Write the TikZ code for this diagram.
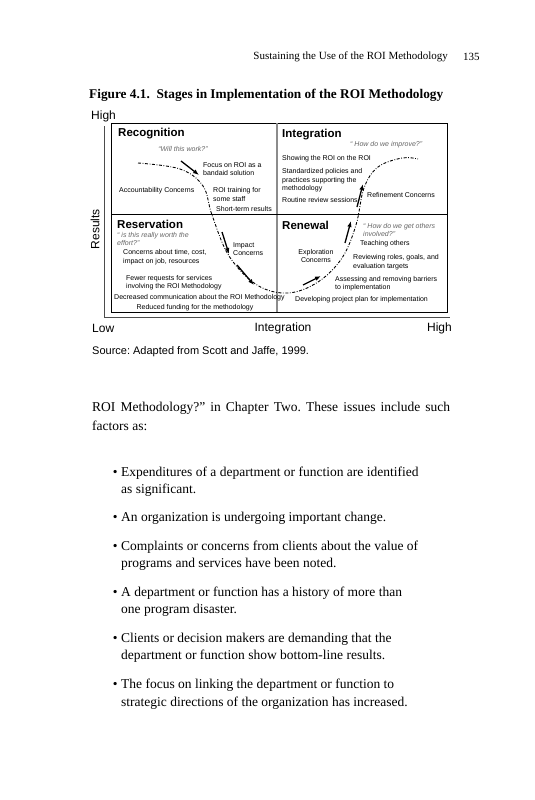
\documentclass[tikz,border=0pt]{standalone}
\usepackage{fontspec}
\setmainfont{Liberation Serif}
\setsansfont{Liberation Sans}
\usetikzlibrary{arrows.meta}
\frenchspacing

\begin{document}
\begin{tikzpicture}[x=1pt,y=-1pt,
  lbl/.style={font=\sffamily\fontsize{7}{8.6}\selectfont,anchor=west,inner sep=0pt,align=left},
  quad/.style={font=\sffamily\bfseries\fontsize{11.5}{13}\selectfont,anchor=west,inner sep=0pt},
  quote/.style={lbl,font=\sffamily\itshape\fontsize{7}{8.6}\selectfont,text=black!60},
  axis/.style={font=\sffamily\fontsize{12}{14}\selectfont,inner sep=0pt},
  body/.style={font=\fontsize{13.5}{17.5}\selectfont,anchor=west,inner sep=0pt,align=left},
  push/.style={line width=1.3pt,-{Latex[length=6pt,width=4.5pt]}},
  stagecurve/.style={line width=0.9pt,dash pattern=on 3pt off 1.6pt on 0.8pt off 1.6pt}]
\useasboundingbox[fill=white] (0,0) rectangle (535,800);
\newcommand\itembul{\llap{\textbullet\hspace{3.5pt}}}

% page head and caption
\node[font=\fontsize{11}{13}\selectfont,anchor=east,inner sep=0pt] (head) at (448,57) {Sustaining the Use of the ROI Methodology};
\node[font=\fontsize{11}{13}\selectfont,anchor=west,inner sep=0pt] (page) at (463,57) {135};
\node[font=\bfseries\fontsize{13.3}{15}\selectfont,anchor=west,inner sep=0pt] (title) at (89,95) {Figure 4.1.\ \ Stages in Implementation of the ROI Methodology};

% axes and frame
\coordinate (top) at (104,126);
\coordinate (origin) at (104,317);
\coordinate (right) at (450,317);
\draw[black!70,line width=0.8pt] (top) -- (origin) -- (right);
\draw[line width=0.6pt] (111,123) rectangle (447,312);
\draw[black!45,line width=1.2pt] (277,123) -- (277,312);
\draw[line width=1pt] (111,214) -- (447,214);

\node[axis,anchor=west] (high1) at (91,116) {High};
\node[axis,rotate=90] (results) at (95,229) {Results};
\node[axis,anchor=west] (low) at (92,328) {Low};
\node[axis] (integ) at (283,328) {Integration};
\node[axis,anchor=east] (high2) at (452,328) {High};
\node[font=\sffamily\fontsize{11}{13}\selectfont,anchor=west,inner sep=0pt] (source) at (92,352) {Source: Adapted from Scott and Jaffe, 1999.};

% Recognition
\node[quad] (recog) at (118,134) {Recognition};
\node[quote,anchor=center] (q1) at (183,149) {“Will this work?”};
\node[lbl] (focus) at (203,169) {Focus on ROI as a\\bandaid solution};
\node[lbl] (account) at (119,191) {Accountability Concerns};
\node[lbl] (training) at (213,194.5) {ROI training for\\some staff};
\node[lbl] (short) at (216,209) {Short-term results};

% Integration
\node[quad] (integr) at (282,135) {Integration};
\node[quote] (q2) at (350,145) {“ How do we improve?”};
\node[lbl] (showing) at (282,159) {Showing the ROI on the ROI};
\node[lbl] (standard) at (282,180.5) {Standardized policies and\\practices supporting the\\methodology};
\node[lbl] (routine) at (282,200) {Routine review sessions};
\node[lbl] (refine) at (367,195) {Refinement Concerns};

% Reservation
\node[quad] (reserv) at (117,224) {Reservation};
\node[quote] (q3) at (117,239) {“ is this really worth the\\effort?”};
\node[lbl] (time) at (123,257) {Concerns about time, cost,\\impact on job, resources};
\node[lbl] (impact) at (233,249) {Impact\\Concerns};
\node[lbl] (fewer) at (126,282.5) {Fewer requests for services\\involving the ROI Methodology};
\node[lbl] (decr) at (114,298) {Decreased communication about the ROI Methodology};
\node[lbl,anchor=center] (funding) at (195,308) {Reduced funding for the methodology};

% Renewal
\node[quad] (renew) at (282,225) {Renewal};
\node[quote] (q4) at (363,230) {“ How do we get others\\involved?”};
\node[lbl,align=center,anchor=center] (explore) at (316,256) {Exploration\\Concerns};
\node[lbl] (teach) at (360,244) {Teaching others};
\node[lbl] (review) at (353,262) {Reviewing roles, goals, and\\evaluation targets};
\node[lbl] (assess) at (335,283.5) {Assessing and removing barriers\\to implementation};
\node[lbl] (develop) at (295,300) {Developing project plan for implementation};

% the S-curve through the four stages
\coordinate (c1) at (138,163);
\coordinate (c2) at (180,169);
\coordinate (c3) at (203,186);
\coordinate (c4) at (212,215);
\coordinate (c5) at (229,256);
\coordinate (c6) at (257,285);
\coordinate (c7) at (288,293);
\coordinate (c8) at (318,282);
\coordinate (c9) at (342,258);
\coordinate (c10) at (356,225);
\coordinate (c11) at (364,188);
\coordinate (c12) at (378,167);
\coordinate (c13) at (402,158);
\coordinate (c14) at (418,159);
\draw[stagecurve] plot[smooth,tension=0.6] coordinates {(c1) (c2) (c3) (c4) (c5) (c6) (c7) (c8) (c9) (c10) (c11) (c12) (c13) (c14)};

% arrows along the curve
\coordinate (a1) at (181,161); \coordinate (b1) at (199,175);
\coordinate (a2) at (222,232); \coordinate (b2) at (229,254);
\coordinate (a3) at (237,265); \coordinate (b3) at (254,285);
\coordinate (a4) at (303,285); \coordinate (b4) at (321,276);
\coordinate (a5) at (345,243); \coordinate (b5) at (351,221);
\coordinate (a6) at (357,207); \coordinate (b6) at (363,184);
\foreach \i in {1,...,6}
  \draw[push] (a\i) -- (b\i);

% text below the figure
\node[body] (para1) at (92,408) {\makebox[358pt][s]{ROI Methodology?” in Chapter Two. These issues include such}};
\node[body] (para2) at (92,426) {factors as:};

\node[body] (i1) at (121,481.5) {\itembul Expenditures of a department or function are identified\\as significant.};
\node[body] (i2) at (121,518) {\itembul An organization is undergoing important change.};
\node[body] (i3) at (121,555.5) {\itembul Complaints or concerns from clients about the value of\\programs and services have been noted.};
\node[body] (i4) at (121,601.5) {\itembul A department or function has a history of more than\\one program disaster.};
\node[body] (i5) at (121,647.5) {\itembul Clients or decision makers are demanding that the\\department or function show bottom-line results.};
\node[body] (i6) at (121,694) {\itembul The focus on linking the department or function to\\strategic directions of the organization has increased.};
\end{tikzpicture}
\end{document}
